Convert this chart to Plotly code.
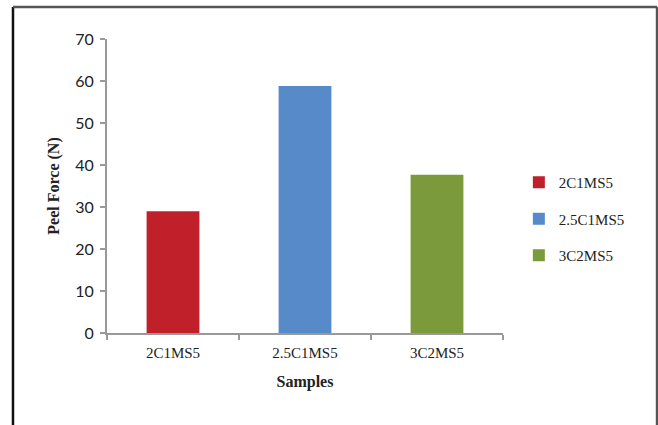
import plotly.graph_objects as go

categories = ["2C1MS5", "2.5C1MS5", "3C2MS5"]
peel_force = [29.0, 58.8, 37.7]
colors = ["#c0202a", "#578ac9", "#7a9a3c"]
y_ticks = [0, 10, 20, 30, 40, 50, 60, 70]

fig = go.Figure()
for i, (cat, val, col) in enumerate(zip(categories, peel_force, colors)):
    fig.add_trace(go.Bar(
        x=[cat], y=[val], name=cat, marker=dict(color=col, line=dict(width=0)),
        width=0.4, legendgroup=str(i)
    ))

fig.update_layout(
    width=658, height=425,
    margin=dict(l=107, r=155, t=39, b=92),
    paper_bgcolor="white", plot_bgcolor="white",
    barmode="overlay",
    showlegend=True,
    legend=dict(x=1.04, y=0.388, yanchor="middle", xanchor="left",
                font=dict(family="Liberation Serif", size=15, color="#222"),
                tracegroupgap=14, itemwidth=30, traceorder="grouped"),
    font=dict(family="Liberation Serif", color="#222"),
)
fig.update_xaxes(
    categoryorder="array", categoryarray=categories,
    showline=True, linecolor="#999", linewidth=2,
    ticks="outside", tickson="boundaries", ticklen=5, tickcolor="#999", tickwidth=2,
    tickfont=dict(family="Liberation Serif", size=15, color="#222"),
    ticklabelstandoff=5,
    title=dict(text="<b>Samples</b>", font=dict(family="Liberation Serif", size=16, color="#222"), standoff=16),
    showgrid=False,
)
fig.update_yaxes(
    range=[0, 70], tickvals=y_ticks,
    showline=True, linecolor="#999", linewidth=2,
    ticks="outside", ticklen=5, tickcolor="#999", tickwidth=2,
    tickfont=dict(family="Lato", size=16, color="#222"),
    ticklabelstandoff=3,
    title=dict(text="<b>Peel Force (N)</b>", font=dict(family="Liberation Serif", size=16, color="#222"), standoff=12),
    showgrid=False, zeroline=False,
)

# outer frame (partially cropped)
fig.add_shape(type="line", xref="paper", yref="paper", x0=-0.2374, x1=-0.2374, y0=1.1088, y1=-0.35,
              line=dict(color="#111", width=2.5))
fig.add_shape(type="line", xref="paper", yref="paper", x0=-0.2374, x1=1.389, y0=1.1088, y1=1.1088,
              line=dict(color="#555", width=2.5))
fig.add_shape(type="line", xref="paper", yref="paper", x0=1.389, x1=1.389, y0=1.1088, y1=-0.35,
              line=dict(color="#555", width=2.5))

fig.write_html("out.html", config={"displayModeBar": False},
               post_script="document.body.style.margin='0';document.body.style.overflow='hidden';")
